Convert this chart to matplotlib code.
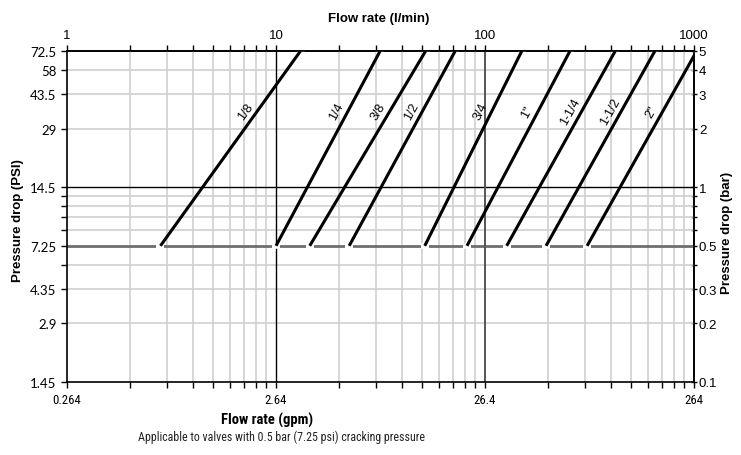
import os
import numpy as np
import matplotlib
matplotlib.use('Agg')
import matplotlib.pyplot as plt
from matplotlib import transforms, font_manager
from matplotlib.font_manager import FontProperties
from matplotlib.ticker import FixedLocator, FixedFormatter, NullFormatter

# ---------------- data ----------------
sizes = ['1/8', '1/4', '3/8', '1/2', '3/4', '1"', '1-1/4', '1-1/2', '2"']
flow_at_crack = [2.8, 10.0, 14.5, 22.4, 51.5, 82.0, 127.0, 196.0, 308.0]   # l/min at 0.5 bar
flow_at_max = [13.1, 31.5, 52.0, 72.0, 150.0, 255.0, 420.0, 650.0, 1030.0]  # l/min at 5 bar
pressure_range_bar = [0.5, 5.0]

bar_ticks = [0.1, 0.2, 0.3, 0.5, 1, 2, 3, 4, 5]
bar_labels = ['0.1', '0.2', '0.3', '0.5', '1', '2', '3', '4', '5']
psi_labels = ['1.45', '2.9', '4.35', '7.25', '14.5', '29', '43.5', '58', '72.5']
bar_minor = [0.4, 0.6, 0.7, 0.8, 0.9]
lpm_ticks = [1, 10, 100, 1000]
lpm_labels = ['1', '10', '100', '1000']
gpm_labels = ['0.264', '2.64', '26.4', '264']
lpm_minor = [m * d for d in (1, 10, 100) for m in range(2, 10)]
light_h = [0.2, 0.3, 0.4, 0.6, 0.7, 0.8, 0.9, 2, 3, 4]

caption = 'Applicable to valves with 0.5 bar (7.25 psi) cracking pressure'

# ---------------- fonts ----------------
def find_narrow(bold):
    best = None
    for f in font_manager.fontManager.ttflist:
        base = os.path.basename(f.fname).lower()
        nm = f.name.lower()
        is_narrow = ('narrow' in nm or 'condensed' in nm or 'narrow' in base
                     or ('condensed' in base and 'semicondensed' not in base and 'extracondensed' not in base)
                     or f.stretch in ('condensed',))
        if not is_narrow or f.style != 'normal':
            continue
        if 'italic' in base or 'oblique' in base:
            continue
        w = f.weight if isinstance(f.weight, int) else (700 if f.weight == 'bold' else 400)
        if bold and w != 700:
            continue
        if not bold and w != 400:
            continue
        rank = 5
        for i, key in enumerate(['liberation', 'roboto', 'opensans', 'open sans', 'noto', 'dejavu']):
            if key in nm or key in base:
                rank = i
                break
        if best is None or rank < best[0]:
            best = (rank, f.fname)
    return best[1] if best else None

nf = find_narrow(False)
nfb = find_narrow(True)
if nf:
    NARROW = FontProperties(fname=nf)
    NARROW_SCALE = 1.0
else:
    NARROW = FontProperties(family='Roboto')
    NARROW_SCALE = 0.8
if nfb:
    NARROWB = FontProperties(fname=nfb)
else:
    NARROWB = FontProperties(family='Roboto', weight='bold')

arial = ['Liberation Sans', 'DejaVu Sans']
plt.rcParams['font.family'] = arial

# ---------------- figure ----------------
fig = plt.figure(figsize=(7.41, 4.56), dpi=100)
W, H = 741, 456
ax = fig.add_axes([67 / W, 1 - 383 / H, (694 - 67) / W, (383 - 52) / H])
ax.set_xscale('log')
ax.set_yscale('log')
ax.set_xlim(1, 1000)
ax.set_ylim(0.1, 5)

LIGHT = '#d0d0d0'
for q in lpm_minor:
    ax.axvline(q, color=LIGHT, lw=1.2, zorder=1)
for b in light_h:
    ax.axhline(b, color=LIGHT, lw=1.2, zorder=1)
ax.axhline(0.5, color='#6e6e6e', lw=2.0, zorder=2)
ax.axhline(1, color='black', lw=1.0, zorder=2)
ax.axvline(10, color='black', lw=1.0, zorder=2)
ax.axvline(100, color='#555555', lw=1.4, zorder=2)

# lines
for name, q0, q1 in zip(sizes, flow_at_crack, flow_at_max):
    xs = [q0, q1]
    ys = pressure_range_bar
    ax.plot(xs, ys, color='white', lw=0, marker='_', ms=5.5, mew=4, zorder=3, clip_on=True)
    ax.plot(xs, ys, color='black', lw=2.2, zorder=4, solid_capstyle='butt')
    p_lab = 2.45
    q_lab = 10 ** (np.log10(q0) + (np.log10(p_lab) - np.log10(ys[0])) /
                   (np.log10(ys[1]) - np.log10(ys[0])) * (np.log10(q1) - np.log10(q0)))
    d0 = ax.transData.transform((q0, ys[0]))
    d1 = ax.transData.transform((q1, ys[1]))
    ang = np.degrees(np.arctan2(d1[1] - d0[1], d1[0] - d0[0]))
    tr = transforms.offset_copy(ax.transData, fig=fig, x=-11, y=0, units='dots')
    ax.text(q_lab, p_lab, name, transform=tr, rotation=ang, rotation_mode='anchor',
            ha='center', va='center', fontsize=9, zorder=5)

for s in ax.spines.values():
    s.set_linewidth(1.2)
    s.set_color('black')
    s.set_zorder(6)

# bottom (gpm) and left (psi) on main axes
ax.xaxis.set_major_locator(FixedLocator(lpm_ticks))
ax.xaxis.set_major_formatter(FixedFormatter(gpm_labels))
ax.xaxis.set_minor_locator(FixedLocator(lpm_minor))
ax.xaxis.set_minor_formatter(NullFormatter())
ax.yaxis.set_major_locator(FixedLocator(bar_ticks))
ax.yaxis.set_major_formatter(FixedFormatter(psi_labels))
ax.yaxis.set_minor_locator(FixedLocator(bar_minor))
ax.yaxis.set_minor_formatter(NullFormatter())
ax.tick_params(axis='both', which='both', direction='out', length=4, width=1, color='black')
ax.tick_params(axis='x', which='major', pad=4)
for lab in ax.get_xticklabels():
    lab.set_fontproperties(NARROW)
    lab.set_fontsize(9.2 * NARROW_SCALE)
for lab in ax.get_yticklabels():
    lab.set_family(['Lato', 'DejaVu Sans'])
    lab.set_fontsize(9.5)

# top (l/min)
top = ax.secondary_xaxis('top')
top.xaxis.set_major_locator(FixedLocator(lpm_ticks))
top.xaxis.set_major_formatter(FixedFormatter(lpm_labels))
top.xaxis.set_minor_locator(FixedLocator(lpm_minor))
top.xaxis.set_minor_formatter(NullFormatter())
top.tick_params(which='both', direction='out', length=4, width=1, labelsize=9.5, pad=3)
top.spines['top'].set_linewidth(1.2)

# right (bar)
right = ax.secondary_yaxis('right')
right.yaxis.set_major_locator(FixedLocator(bar_ticks))
right.yaxis.set_major_formatter(FixedFormatter(bar_labels))
right.yaxis.set_minor_locator(FixedLocator(bar_minor))
right.yaxis.set_minor_formatter(NullFormatter())
right.tick_params(which='both', direction='inout', length=5, width=1, labelsize=9.5, pad=1)
right.spines['right'].set_linewidth(1.2)

# titles
fig.text(379 / W, 1 - 19 / H, 'Flow rate (l/min)', ha='center', va='center',
         fontsize=9.5, fontweight='bold')
fig.text(18 / W, 1 - 221 / H, 'Pressure drop (PSI)', ha='center', va='center',
         rotation=90, fontsize=9.5, fontweight='bold')
fig.text(727 / W, 1 - 233 / H, 'Pressure drop (bar)', ha='center', va='center',
         rotation=90, fontsize=9.5, fontweight='bold')
fig.text(267 / W, 1 - 420 / H, 'Flow rate (gpm)', ha='center', va='center',
         fontproperties=NARROWB, fontsize=10.5 * NARROW_SCALE)
fig.text(282 / W, 1 - 437 / H, caption, ha='center', va='center',
         fontproperties=NARROW, fontsize=8.6 * NARROW_SCALE, color='#222222')

fig.savefig('out.png', dpi=100)
